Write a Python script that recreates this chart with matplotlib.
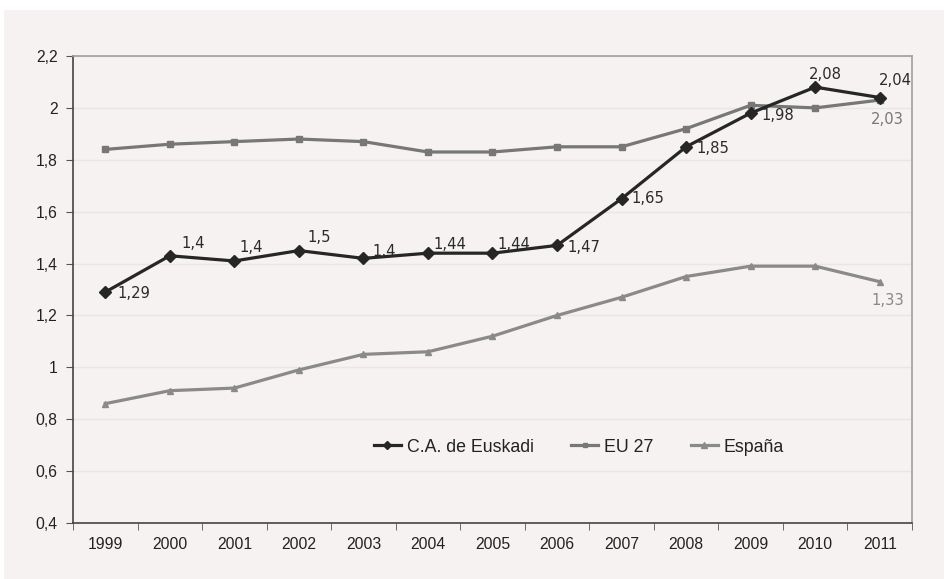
import matplotlib
matplotlib.use("Agg")
import matplotlib.pyplot as plt
from matplotlib.patches import Rectangle
import numpy as np

years = ["1999", "2000", "2001", "2002", "2003", "2004", "2005", "2006",
         "2007", "2008", "2009", "2010", "2011"]
euskadi = [1.29, 1.43, 1.41, 1.45, 1.42, 1.44, 1.44, 1.47, 1.65, 1.85, 1.98, 2.08, 2.04]
euskadi_labels = ["1,29", "1,4", "1,4", "1,5", "1,4", "1,44", "1,44", "1,47",
                  "1,65", "1,85", "1,98", "2,08", "2,04"]
eu27 = [1.84, 1.86, 1.87, 1.88, 1.87, 1.83, 1.83, 1.85, 1.85, 1.92, 2.01, 2.00, 2.03]
espana = [0.86, 0.91, 0.92, 0.99, 1.05, 1.06, 1.12, 1.20, 1.27, 1.35, 1.39, 1.39, 1.33]
yticks = [0.4, 0.6, 0.8, 1.0, 1.2, 1.4, 1.6, 1.8, 2.0, 2.2]
ytick_labels = ["0,4", "0,6", "0,8", "1", "1,2", "1,4", "1,6", "1,8", "2", "2,2"]

bg = "#f5f2f1"
fig = plt.figure(figsize=(9.45, 5.79), dpi=100)
fig.patch.set_facecolor("white")
fig.add_artist(Rectangle((4 / 945, 0), 1 - 4 / 945, 1 - 10 / 579,
                         transform=fig.transFigure, facecolor=bg, edgecolor="none", zorder=0))

ax = fig.add_axes([73 / 945, 1 - 523 / 579, (912 - 73) / 945, (523 - 56) / 579])
ax.set_facecolor(bg)
x = np.arange(len(years))

c_eus = "#262626"
c_eu = "#777777"
c_es = "#8a8a8a"

ax.plot(x, espana, color=c_es, lw=2.3, marker="^", ms=5, label="España", zorder=3)
ax.plot(x, eu27, color=c_eu, lw=2.3, marker="s", ms=4.5, label="EU 27", zorder=3)
ax.plot(x, euskadi, color=c_eus, lw=2.3, marker="D", ms=6, label="C.A. de Euskadi", zorder=4)

ax.set_xlim(-0.5, len(years) - 0.5)
ax.set_ylim(0.4, 2.2)
ax.set_yticks(yticks)
ax.set_yticklabels(ytick_labels)
ax.set_xticks(x)
ax.set_xticklabels(years)
ax.set_xticks(np.arange(len(years) + 1) - 0.5, minor=True)
ax.tick_params(axis="x", which="major", length=0, pad=10)
ax.tick_params(axis="x", which="minor", length=5, color="#555555", direction="out")
ax.tick_params(axis="y", length=5, color="#555555", direction="out", pad=6)
for lab in ax.get_xticklabels() + ax.get_yticklabels():
    lab.set_fontfamily("Liberation Sans")
    lab.set_fontsize(11.3)
    lab.set_color("#222222")

ax.grid(axis="y", color="#e9e6e5", lw=1)
ax.set_axisbelow(True)
for s in ["left", "bottom"]:
    ax.spines[s].set_color("#444444")
    ax.spines[s].set_linewidth(1.2)
for s in ["top", "right"]:
    ax.spines[s].set_color("#a0a0a0")
    ax.spines[s].set_linewidth(1.2)

# data labels for Euskadi (offsets in points, left edge / vertical centre)
offsets = [(8.6, -1), (8.6, 8.6), (3.6, 9.4), (5.8, 9.4), (6.5, 5), (3.6, 6.5),
           (3.6, 6.5), (7.2, -1.4), (7.2, 0), (7.2, -1.4), (8, -1.4), (-4.3, 9.4),
           (-0.7, 12.2)]
for i, (v, t) in enumerate(zip(euskadi, euskadi_labels)):
    dx, dy = offsets[i]
    ax.annotate(t, (x[i], v), xytext=(dx, dy), textcoords="offset points",
                ha="left", va="center", fontsize=10.6, color="#2a2a2a",
                fontfamily="DejaVu Sans", zorder=5)

ax.annotate("2,03", (x[-1], eu27[-1]), xytext=(5.8, -13.7), textcoords="offset points",
            ha="center", va="center", fontsize=10.6, color="#777777", fontfamily="DejaVu Sans")
ax.annotate("1,33", (x[-1], espana[-1]), xytext=(5.8, -13.7), textcoords="offset points",
            ha="center", va="center", fontsize=10.6, color="#888888", fontfamily="DejaVu Sans")

h, l = ax.get_legend_handles_labels()
order = [2, 1, 0]
leg = ax.legend([h[i] for i in order], [l[i] for i in order], loc="center",
                ncol=3, frameon=False, prop={"family": "Liberation Sans", "size": 12.8},
                handlelength=1.5, columnspacing=2.1, handletextpad=0.35,
                markerscale=0.75)
leg.set_bbox_to_anchor((579 / 945, 1 - 447 / 579), transform=fig.transFigure)
for t in leg.get_texts():
    t.set_color("#222222")

fig.savefig("out.png", dpi=100, facecolor=fig.get_facecolor())
